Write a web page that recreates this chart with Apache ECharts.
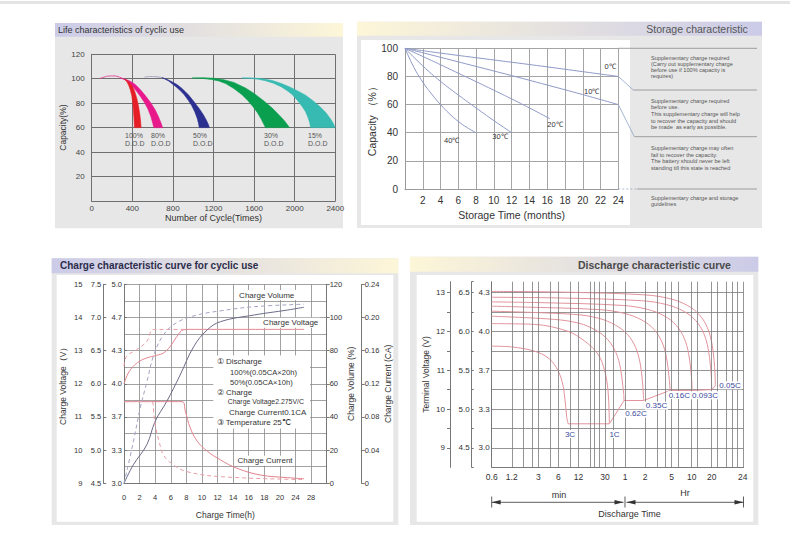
<!DOCTYPE html>
<html>
<head>
<meta charset="utf-8">
<title>Battery characteristics</title>
<script src="https://cdn.jsdelivr.net/npm/echarts@6/dist/echarts.min.js"></script>
<style>
html,body{margin:0;padding:0;background:#ffffff;}
#chart{width:790px;height:542px;}
</style>
</head>
<body>
<div id="chart"></div>
<script>
// ================= DATA =================
// --- Life characteristics of cyclic use: [cycles, capacity %] ---
const lifeDodLabels = ['100%', '80%', '50%', '30%', '15%'];
const life100Outer = [[320,99.6],[345,98.8],[370,97],[395,94.5],[420,90.5],[444,84],[460,78],[474,71],[482,65],[487,60]];
const life100Inner = [[320,99.6],[335,98.8],[350,97],[365,94.5],[380,91],[395,86],[404,81],[410,75],[416,68],[421,60]];
const life80Outer = [[280,100.6],[330,99.6],[380,98],[430,95.2],[480,91],[530,86],[580,80.5],[626,74.5],[660,68.5],[684,63.5],[698,60]];
const life80Inner = [[280,100.6],[320,99.5],[360,97.5],[400,94],[440,90],[480,85.5],[520,80.5],[555,75],[583,69],[600,64],[612,60]];
const life80Top = [[80,100.2],[120,101.3],[170,102.2],[220,102.3],[260,101.7],[300,100.4]];
const life50Top = [[520,101.4],[580,101.8],[640,101.6],[690,101]];
const life50Outer = [[690,101],[740,99.6],[790,97.6],[840,95.2],[890,92],[955,86.6],[1010,81],[1060,75.5],[1100,70.5],[1130,66],[1150,62.5],[1159,60]];
const life50Inner = [[690,101],[725,99.6],[757,98.2],[790,96],[830,93.5],[870,90.5],[910,87],[950,82.5],[985,78],[1015,73],[1040,67.5],[1052,63.5],[1060,60]];
const life30Outer = [[990,100.6],[1100,100.8],[1200,100.4],[1300,99.2],[1400,97],[1514,92.5],[1600,88],[1700,81.5],[1778,76],[1850,70],[1900,65.5],[1949,60]];
const life30Inner = [[990,100.6],[1100,100.2],[1180,99.4],[1251,98.2],[1320,96],[1400,92],[1481,86.9],[1540,82],[1590,77],[1630,72.5],[1670,67],[1712,60]];
const life15Outer = [[1480,100.6],[1580,100.6],[1680,100],[1778,98.6],[1870,96],[1950,93.3],[2030,90],[2107,86.5],[2180,82],[2250,77],[2304,72.5],[2350,67.5],[2380,63.5],[2397,60]];
const life15Inner = [[1480,100.6],[1560,100.4],[1640,99.6],[1712,98.4],[1790,96.4],[1870,93.3],[1930,90],[1975,87],[2030,82],[2075,77],[2107,73],[2130,68.5],[2148,64],[2156,60]];

// --- Storage characteristic: [months, capacity %] ---
const storageTempLabels = ['0℃', '10℃', '20℃', '30℃', '40℃'];
const storage0 = [[0,100],[4,96.6],[8,93.3],[12,90.1],[16,86.8],[20,83.4],[24,80]];
const storage10 = [[0,100],[4,93.6],[8,87.1],[12,80.6],[16,73.9],[20,67.1],[24,60]];
const storage20 = [[0,100],[2,94.2],[4,88.3],[6,82.3],[8,76.3],[10,70.2],[12,64],[14,57.6],[16.3,50]];
const storage30 = [[0,100],[2,87.5],[4,76.5],[6,66.8],[8,57.6],[10,48.6],[12,40]];
const storage40 = [[0,100],[1,86.5],[2,76],[3,67.5],[4,60],[5,53.5],[6,48],[7,43.6],[8,40]];

// --- Charge characteristic: x = charge-time axis position (h) ---
const chargeTimeLabels = ['0','2','4','6','8','10','12','14','16','18','20','24','28',''];
const chargeVolt12Labels = ['9','10','11','12','13','14','15'];
const chargeVolt6Labels = ['4.5','5.0','5.5','6.0','6.5','7.0','7.5'];
const chargeCellLabels = ['3.0','3.3','3.7','4.0','4.3','4.7','5.0'];
const chargeVoltSolid = [[0,12.0],[0.5,12.3],[1.2,12.53],[2.0,12.68],[2.93,12.78],[4.2,12.86],[5.07,12.93],[5.94,13.13],[6.8,13.43],[7.65,13.63],[8.5,13.64],[23.1,13.64]];
const chargeVoltDashed = [[0,12.53],[0.34,12.83],[1.63,13.03],[2.93,13.28],[3.57,13.62],[4.0,13.64],[23.1,13.64]];
const chargeVolSolid = [[0,0],[1.2,11.2],[2.93,23.3],[4.0,37.4],[5.5,49.5],[7.2,65.3],[8.94,82.4],[10.67,92.5],[12.4,97.5],[16.7,101.5],[21.0,104.5],[23.1,106.2]];
const chargeVolDashed = [[0,0],[1.2,25],[2.06,45],[2.93,61],[3.8,77],[5.07,89.5],[6.8,97],[9.4,101.5],[12.4,104],[16.7,106.5],[23.1,108]];
const chargeCurSolid = [[0,0.0985],[7.44,0.0985],[7.87,0.0868],[8.5,0.0667],[9.4,0.0507],[10.7,0.0386],[12.4,0.0281],[14.5,0.0181],[17.5,0.010],[21,0.0068],[23.1,0.0055]];
const chargeCurDashed = [[0,0.0985],[3.57,0.0985],[3.8,0.0868],[4.0,0.0703],[4.5,0.0507],[5.07,0.0341],[6.36,0.0221],[8.1,0.014],[12.4,0.008],[23.1,0.0045]];

// --- Discharge characteristic: [minutes, terminal voltage (12V)] ---
const disTickValues = [0.6,1.2,3,6,12,30,60,120,300,600,1200,3500];
const disTickLabels = ['0.6','1.2','3','6','12','30','1','2','5','10','20','24'];
const disGridMinutes = [1.2,1.8,2.4,3,4.5,6,9,12,18,21,25,30,40,60,120,180,240,300,380,600,720,1200,1440,2000,2450,2900,3600];
const disVolt12Labels = ['9','10','11','12','13'];
const disVolt6Labels = ['4.5','5.0','5.5','6.0','6.5'];
const disCellLabels = ['3.0','3.3','3.7','4.0','4.3'];
const disRateLabels = ['3C','1C','0.62C','0.35C','0.16C','0.093C','0.05C'];
const dis005 = [[0.6,13.03],[7.6,13.01],[121,12.94],[287,12.84],[517,12.67],[782,12.43],[1032,12.1],[1205,11.7],[1304,11.25],[1345,10.9],[1360,10.6]];
const disB = [[0.6,12.88],[6.7,12.86],[107,12.79],[253,12.69],[456,12.52],[690,12.28],[911,11.95],[1063,11.55],[1151,11.1],[1188,10.8],[1200,10.5]];
const dis0093 = [[0.6,12.76],[3.4,12.74],[54,12.67],[129,12.57],[232,12.4],[351,12.16],[463,11.83],[540,11.43],[585,10.98],[603,10.7],[610,10.48]];
const dis016 = [[0.6,12.65],[1.6,12.63],[25.4,12.56],[60,12.46],[108,12.29],[164,12.05],[216,11.72],[252,11.32],[273,10.87],[282,10.6],[285,10.48]];
const dis035 = [[0.6,12.52],[10.1,12.44],[24,12.34],[43.3,12.16],[65.5,11.92],[86.5,11.59],[101,11.19],[109.3,10.74],[112.5,10.45],[114,10.22]];
const dis062 = [[0.6,12.39],[5.2,12.31],[12.2,12.21],[22,12.03],[33.4,11.78],[44,11.45],[51.4,11.05],[55.6,10.6],[57.3,10.4],[58,10.22]];
const dis1C = [[0.6,12.2],[2.65,12.18],[8.4,12.0],[14.9,11.75],[23.7,11.41],[29.8,10.98],[33.4,10.47],[34.6,9.95],[35,9.62]];
const dis3C = [[0.6,11.62],[1.2,11.6],[2.65,11.49],[4.2,11.32],[5.6,11.07],[6.8,10.72],[7.5,10.29],[8.0,9.8],[8.4,9.62]];
const disCutoff = [[8.4,9.62],[35,9.62],[58,10.22],[114,10.22],[285,10.48],[610,10.48],[1200,10.5],[1360,10.6]];

// ================= HELPERS =================
const FONT = "'Liberation Sans', Arial, Helvetica, sans-serif";
function intLabel(arr, base) {
  return function (v) {
    if (!Number.isInteger(v)) return '';
    const i = v - base;
    return (i >= 0 && i < arr.length) ? arr[i] : '';
  };
}
function disLabelFor(v) {
  let best = -1, bd = Infinity;
  disTickValues.forEach(function (t, i) { const d = Math.abs(Math.log(v / t)); if (d < bd) { bd = d; best = i; } });
  return bd < 0.02 ? disTickLabels[best] : '';
}
function lbl(size, margin, extra) {
  return Object.assign({ fontSize: size, color: '#333', fontFamily: FONT, margin: margin }, extra || {});
}
function nameStyle(size, extra) {
  return Object.assign({ fontSize: size, color: '#333', fontFamily: FONT }, extra || {});
}
function band(outer, inner, color) {
  const pts = outer.concat(inner.slice().reverse());
  return {
    type: 'custom', coordinateSystem: 'cartesian2d', xAxisIndex: 0, yAxisIndex: 0, silent: true, z: 3,
    data: pts,
    renderItem: function (params, api) {
      if (params.dataIndex !== 0) return null;
      return { type: 'polygon', shape: { points: pts.map(function (p) { return api.coord(p); }) },
               style: { fill: color, stroke: color, lineWidth: 0.6 } };
    }
  };
}
function line(data, xi, yi, color, dashed, width, smooth) {
  return {
    type: 'line', xAxisIndex: xi, yAxisIndex: yi, data: data, symbol: 'none', silent: true,
    smooth: smooth === undefined ? 0.3 : smooth, z: 4,
    lineStyle: { color: color, width: width || 1, type: dashed ? [4, 3] : 'solid' }
  };
}
function plain(v) { return String(v); }

const chart = echarts.init(document.getElementById('chart'), null, { renderer: 'svg', width: 790, height: 542 });

const GRIDC = '#6f6f6f';
const option = {
  animation: false,
  backgroundColor: '#ffffff',
  textStyle: { fontFamily: FONT },
  grid: [
    { left: 91.7, top: 54.3, width: 243.6, height: 146.6, outerBoundsMode: 'none' },
    { left: 405, top: 48.3, width: 213.3, height: 140.7, outerBoundsMode: 'none' },
    { left: 124, top: 284.3, width: 202.7, height: 199, outerBoundsMode: 'none' },
    { left: 491.7, top: 281.7, width: 251.8, height: 185.6, outerBoundsMode: 'none' }
  ],
  xAxis: [
    { gridIndex: 0, type: 'value', min: 0, max: 2400, interval: 400,
      axisLine: { show: true, lineStyle: { color: GRIDC } }, axisTick: { show: false },
      splitLine: { show: true, lineStyle: { color: GRIDC, width: 1 } },
      axisLabel: lbl(8, 4, { color: '#444', formatter: plain }),
      name: 'Number of Cycle(Times)', nameLocation: 'middle', nameGap: 13, nameTextStyle: nameStyle(9) },
    { gridIndex: 1, type: 'value', min: 0, max: 24, interval: 2,
      axisLine: { show: true, lineStyle: { color: '#9a9a9a' } }, axisTick: { show: false },
      splitLine: { show: true, lineStyle: { color: '#a5a5a5', width: 1 } },
      axisLabel: lbl(10, 6, { formatter: function (v) { return v === 0 ? '' : String(v); } }),
      name: 'Storage Time (months)', nameLocation: 'middle', nameGap: 20, nameTextStyle: nameStyle(10.5) },
    { gridIndex: 2, type: 'value', min: 0, max: 26, interval: 2,
      axisLine: { show: true, lineStyle: { color: '#777' } }, axisTick: { show: false },
      splitLine: { show: true, lineStyle: { color: '#8a8a8a', width: 0.8 } },
      axisLabel: lbl(7.5, 10, { formatter: function (v) { return chargeTimeLabels[Math.round(v / 2)] || ''; } }),
      name: 'Charge Time(h)', nameLocation: 'middle', nameGap: 27, nameTextStyle: nameStyle(8.5) },
    { gridIndex: 3, type: 'log', logBase: 10, min: 0.6, max: 3600,
      axisLine: { show: true, lineStyle: { color: '#7a7a7a' } }, axisTick: { show: false },
      splitLine: { show: false }, minorTick: { show: false }, minorSplitLine: { show: false },
      axisLabel: lbl(8.5, 5, { customValues: disTickValues, formatter: disLabelFor, hideOverlap: false }),
      name: 'Discharge Time', nameLocation: 'middle', nameGap: 42, nameTextStyle: nameStyle(9, { padding: [0, 0, 0, 24] }) }
  ],
  yAxis: [
    { gridIndex: 0, type: 'value', min: 0, max: 120, interval: 20,
      axisLine: { show: true, lineStyle: { color: GRIDC } }, axisTick: { show: false },
      splitLine: { show: true, lineStyle: { color: GRIDC, width: 1 } },
      axisLabel: lbl(8, 7, { color: '#444', formatter: function (v) { return v === 0 ? '' : String(v); } }),
      name: 'Capacity(%)', nameLocation: 'middle', nameGap: 21, nameTextStyle: nameStyle(8.5) },
    { gridIndex: 1, type: 'value', min: 0, max: 100, interval: 20,
      axisLine: { show: true, lineStyle: { color: '#9a9a9a' } }, axisTick: { show: false },
      splitLine: { show: true, lineStyle: { color: '#a5a5a5', width: 1 } },
      axisLabel: lbl(10, 7),
      name: 'Capacity （%）', nameLocation: 'middle', nameGap: 24, nameTextStyle: nameStyle(10.5) },
    // charge: 12V scale
    { gridIndex: 2, type: 'value', position: 'left', offset: 39.7, min: 9, max: 15, interval: 1,
      axisLine: { show: true, lineStyle: { color: '#777' } }, axisTick: { show: true, inside: true, length: 3, lineStyle: { color: '#777' } },
      splitLine: { show: false }, axisLabel: lbl(7.5, 2, { formatter: intLabel(chargeVolt12Labels, 9) }),
      name: 'Charge Voltage（V）', nameLocation: 'middle', nameGap: 17, nameTextStyle: nameStyle(8.5) },
    // charge: 6V scale
    { gridIndex: 2, type: 'value', position: 'left', offset: 20.7, min: 9, max: 15, interval: 1,
      axisLine: { show: true, lineStyle: { color: '#777' } }, axisTick: { show: true, inside: true, length: 3, lineStyle: { color: '#777' } },
      splitLine: { show: false }, axisLabel: lbl(7.5, 2, { formatter: intLabel(chargeVolt6Labels, 9) }) },
    // charge: cell scale (plot border + grid)
    { gridIndex: 2, type: 'value', position: 'left', offset: 0, min: 9, max: 15, interval: 0.5,
      axisLine: { show: true, lineStyle: { color: '#777' } }, axisTick: { show: false },
      splitLine: { show: true, lineStyle: { color: '#8a8a8a', width: 0.8 } },
      axisLabel: lbl(7.5, 2, { formatter: intLabel(chargeCellLabels, 9) }) },
    // charge volume
    { gridIndex: 2, type: 'value', position: 'right', offset: 0, min: 0, max: 120, interval: 20,
      axisLine: { show: true, lineStyle: { color: '#777' } }, axisTick: { show: true, length: 3, lineStyle: { color: '#777' } },
      splitLine: { show: false }, axisLabel: lbl(7.5, 3),
      name: 'Charge Volume (%)', nameLocation: 'middle', nameGap: 17, nameTextStyle: nameStyle(8.5) },
    // charge current
    { gridIndex: 2, type: 'value', position: 'right', offset: 35, min: 0, max: 0.24, interval: 0.04,
      axisLine: { show: true, lineStyle: { color: '#777' } }, axisTick: { show: true, length: 3, lineStyle: { color: '#777' } },
      splitLine: { show: false },
      axisLabel: lbl(7.5, 3, { formatter: function (v) { return v === 0 ? '0' : v.toFixed(2); } }),
      name: 'Charge Current (CA)', nameLocation: 'middle', nameGap: 22, nameTextStyle: nameStyle(8.5) },
    // discharge 12V
    { gridIndex: 3, type: 'value', position: 'left', offset: 41.7, min: 8.5, max: 13.28, interval: 0.5,
      axisLine: { show: true, lineStyle: { color: '#777' } }, axisTick: { show: true, length: 3, lineStyle: { color: '#777' } },
      splitLine: { show: false }, axisLabel: lbl(8, 5, { formatter: intLabel(disVolt12Labels, 9), showMaxLabel: false, showMinLabel: false }),
      name: 'Terminal Voltage (V)', nameLocation: 'middle', nameGap: 20, nameTextStyle: nameStyle(8.5) },
    // discharge 6V
    { gridIndex: 3, type: 'value', position: 'left', offset: 20, min: 8.5, max: 13.28, interval: 0.5,
      axisLine: { show: true, lineStyle: { color: '#777' } }, axisTick: { show: true, inside: true, length: 2, lineStyle: { color: '#777' } },
      splitLine: { show: false }, axisLabel: lbl(8, 2, { formatter: intLabel(disVolt6Labels, 9) }) },
    // discharge cell
    { gridIndex: 3, type: 'value', position: 'left', offset: 0, min: 8.5, max: 13.28, interval: 0.5,
      axisLine: { show: true, lineStyle: { color: '#777' } }, axisTick: { show: false },
      splitLine: { show: true, showMaxLine: false, lineStyle: { color: '#7a7a7a', width: 0.8 } },
      axisLabel: lbl(8, 2, { formatter: intLabel(disCellLabels, 9) }) }
  ],
  series: [
    // life
    line(life80Top, 0, 0, '#e3509c', false, 1, 0.5),
    line(life50Top, 0, 0, '#a3a3bd', false, 1, 0.5),
    band(life80Outer, life80Inner, '#e8198b'),
    band(life100Outer, life100Inner, '#e61f26'),
    band(life50Outer, life50Inner, '#2b2f8f'),
    band(life30Outer, life30Inner, '#0a9e4f'),
    band(life15Outer, life15Inner, '#36bab2'),
    // storage
    line(storage0, 1, 1, '#8e99c7', false, 1, 0.5),
    line(storage10, 1, 1, '#8e99c7', false, 1, 0.5),
    line(storage20, 1, 1, '#8e99c7', false, 1, 0.5),
    line(storage30, 1, 1, '#8e99c7', false, 1, 0.5),
    line(storage40, 1, 1, '#8e99c7', false, 1, 0.5),
    // charge
    line(chargeVoltSolid, 2, 2, '#e2838e', false, 1, 0.4),
    line(chargeVoltDashed, 2, 2, '#e99da7', true, 1, 0.4),
    line(chargeVolSolid, 2, 5, '#6a6b88', false, 1, 0.4),
    line(chargeVolDashed, 2, 5, '#a2a4c2', true, 1, 0.4),
    line(chargeCurSolid, 2, 6, '#e2838e', false, 1, 0.4),
    line(chargeCurDashed, 2, 6, '#e99da7', true, 1, 0.4),
    // discharge grid lines (vertical)
    { type: 'line', xAxisIndex: 3, yAxisIndex: 7, data: [[0.6, 8.5]], symbol: 'none', silent: true, z: 1,
      lineStyle: { width: 0 },
      markLine: { silent: true, symbol: ['none', 'none'], label: { show: false }, animation: false,
        lineStyle: { color: '#7a7a7a', width: 0.8, type: 'solid' }, emphasis: { disabled: true },
        data: disGridMinutes.map(function (v) { return { xAxis: v }; }) } },
    // discharge curves
    line(dis005, 3, 7, '#e2939c', false, 1, 0.35),
    line(disB, 3, 7, '#e2939c', false, 1, 0.35),
    line(dis0093, 3, 7, '#e2939c', false, 1, 0.35),
    line(dis016, 3, 7, '#e2939c', false, 1, 0.35),
    line(dis035, 3, 7, '#e2939c', false, 1, 0.35),
    line(dis062, 3, 7, '#e2939c', false, 1, 0.35),
    line(dis1C, 3, 7, '#e2939c', false, 1, 0.35),
    line(dis3C, 3, 7, '#e2939c', false, 1, 0.35),
    line(disCutoff, 3, 7, '#e2939c', false, 1, 0)
  ]
};
chart.setOption(option);

// ================= DECORATION (panels, titles, notes, annotations) =================
function rect(x, y, w, h, fill, z) { return { type: 'rect', z: z === undefined ? -10 : z, silent: true, shape: { x: x, y: y, width: w, height: h }, style: { fill: fill } }; }
function grad(c0, c1) { return { type: 'linear', x: 0, y: 0, x2: 1, y2: 0, colorStops: [{ offset: 0, color: c0 }, { offset: 1, color: c1 }] }; }
function txt(text, x, y, size, color, opts) {
  return { type: 'text', z: 20, silent: true, x: x, y: y,
    style: Object.assign({ text: text, fontSize: size, fontFamily: FONT, fill: color,
      textAlign: 'left', align: 'left', textVerticalAlign: 'middle', verticalAlign: 'middle' }, opts || {}) };
}
function ctr(extra) { return Object.assign({ textAlign: 'center', align: 'center' }, extra || {}); }
function seg(x1, y1, x2, y2, color, w, dash, z) {
  return { type: 'line', z: z === undefined ? 15 : z, silent: true, shape: { x1: x1, y1: y1, x2: x2, y2: y2 },
    style: { stroke: color, lineWidth: w || 1, lineDash: dash || null } };
}
function tri(points, color) { return { type: 'polygon', z: 15, silent: true, shape: { points: points }, style: { fill: color } }; }

const LAV = '#cbcbe8', YEL = '#fdf6d8', PANEL = '#e7e7e7';
const g = [];
g.push(rect(0, 1, 790, 3, '#e4e4e4'));
// life panel
g.push(rect(55, 23, 288, 205.3, PANEL));
g.push(rect(55, 23, 288, 13.7, grad(LAV, YEL), -9));
g.push(txt('Life characteristics of cyclic use', 58, 30, 9, '#333'));
const dodX = [125, 151, 193, 264, 308];
lifeDodLabels.forEach(function (t, i) {
  g.push(txt(t + '\nD.O.D', dodX[i], 131, 7, '#555', { textVerticalAlign: 'top', verticalAlign: 'top', lineHeight: 8.3 }));
});
// storage panel
g.push(rect(357, 21.7, 405, 206.3, PANEL));
g.push(rect(357, 21.7, 405, 14, grad(YEL, LAV), -9));
g.push(rect(361, 40, 269, 185, '#ffffff', -8));
g.push(txt('Storage characteristic', 697, 28.5, 10.5, '#555', ctr()));
const tempPos = [[610, 66.7], [591.7, 91], [555, 124.3], [500, 136.7], [451.7, 140]];
storageTempLabels.forEach(function (t, i) { g.push(txt(t, tempPos[i][0], tempPos[i][1], 7.5, '#333', ctr())); });
const noteStyle = { textVerticalAlign: 'top', verticalAlign: 'top' };
g.push(txt('Supplementary charge required\n(Carry out supplementary charge\nbefore use if 100% capacity is\nrequires)', 651, 55.3, 5.6, '#555', Object.assign({ lineHeight: 6 }, noteStyle)));
g.push(txt('Supplementary charge required\nbefore use.\nThis supplementary charge will help\nto recover the capacity and should\nbe made  as early as possible.', 651, 97.5, 5.6, '#555', Object.assign({ lineHeight: 6.6 }, noteStyle)));
g.push(txt('Supplementary charge may often\nfail to recover the capacity.\nThe battery should never be left\nstanding till this state is reached', 651, 144.8, 5.6, '#555', Object.assign({ lineHeight: 6.5 }, noteStyle)));
g.push(txt('Supplementary charge and storage\nguidelines', 651, 194.8, 5.6, '#555', Object.assign({ lineHeight: 6 }, noteStyle)));
const p100 = chart.convertToPixel({ gridIndex: 1 }, [24, 100]);
const p80 = chart.convertToPixel({ gridIndex: 1 }, [24, 80]);
const p60 = chart.convertToPixel({ gridIndex: 1 }, [24, 60]);
const p0 = chart.convertToPixel({ gridIndex: 1 }, [24, 0]);
g.push(seg(p100[0], p100[1], 757, p100[1], '#8a8a8a', 0.8));
g.push(seg(633.3, 90, 757, 90, '#8a8a8a', 0.8));
g.push(seg(634.3, 136.7, 757, 136.7, '#8a8a8a', 0.8));
g.push(seg(p0[0], p0[1], 637, p0[1], '#9aaccc', 0.8, [2, 2]));
g.push(seg(637, p0[1], 757, p0[1], '#8a8a8a', 0.8));
g.push(seg(p80[0], p80[1], 633.3, 90, '#9aaccc', 0.9));
g.push(seg(p60[0], p60[1], 634.3, 136.7, '#9aaccc', 0.9));
// charge panel
g.push(rect(51.7, 258.3, 346.6, 266.7, PANEL));
g.push(rect(51.7, 258.3, 346.6, 15, grad(LAV, YEL), -9));
g.push(rect(56.7, 275, 336.6, 246.7, '#ffffff', -8));
g.push(txt('Charge characteristic curve for cyclic use', 60, 265.8, 10, '#2c2c4c', { fontWeight: 'bold' }));
const whiteBg = { backgroundColor: '#ffffff', padding: [1, 2] };
g.push(txt('Charge Volume', 266.7, 295, 8, '#333', ctr(whiteBg)));
g.push(txt('Charge Voltage', 290.7, 322.7, 8, '#333', ctr(whiteBg)));
g.push(txt('Charge Current', 265, 460.7, 8, '#333', ctr(whiteBg)));
g.push(rect(213.3, 355.5, 96.7, 73, '#ffffff', 5));
g.push(txt('① Discharge', 216.7, 361, 8, '#333'));
g.push(txt('100%(0.05CA×20h)', 230, 372.7, 7.6, '#333'));
g.push(txt('50%(0.05CA×10h)', 230, 382.7, 7.6, '#333'));
g.push(txt('② Charge', 216.7, 392.7, 8, '#333'));
g.push(txt('Charge Voltage2.275V/C', 227.7, 401.7, 6.9, '#333'));
g.push(txt('Charge Current0.1CA', 229, 412.3, 8, '#333'));
g.push(txt('③ Temperature 25℃', 216.7, 422.7, 8, '#333'));
// discharge panel
g.push(rect(410, 256.7, 348.3, 268.3, PANEL));
g.push(rect(410, 256.7, 348.3, 15, grad(YEL, LAV), -9));
g.push(rect(416.7, 275, 336.6, 246.7, '#ffffff', -8));
g.push(txt('Discharge characteristic curve', 578, 264.5, 10.5, '#4a4a4a', { fontWeight: 'bold' }));
const ratePos = [[570, 434], [614.5, 434], [636, 413.7], [656.5, 405.7], [679.3, 395], [705, 395.3], [730, 385.3]];
disRateLabels.forEach(function (t, i) { g.push(txt(t, ratePos[i][0], ratePos[i][1], 8, '#3b4a9c', ctr({ backgroundColor: '#ffffff', padding: [0, 1] }))); });
const xa = chart.convertToPixel({ xAxisIndex: 3 }, 0.6);
const xb = chart.convertToPixel({ xAxisIndex: 3 }, 60);
const xc = chart.convertToPixel({ xAxisIndex: 3 }, 3600);
const ay = 502.3, AC = '#333';
g.push(seg(xa, ay, xb - 1.5, ay, AC, 0.8));
g.push(seg(xb + 1.5, ay, xc, ay, AC, 0.8));
[xa, xb, xc].forEach(function (x) { g.push(seg(x, 496.5, x, 507.5, AC, 0.8)); });
g.push(tri([[xa, ay], [xa + 9, ay - 2.3], [xa + 9, ay + 2.3]], AC));
g.push(tri([[xb - 1.5, ay], [xb - 10.5, ay - 2.3], [xb - 10.5, ay + 2.3]], AC));
g.push(tri([[xb + 1.5, ay], [xb + 10.5, ay - 2.3], [xb + 10.5, ay + 2.3]], AC));
g.push(tri([[xc, ay], [xc - 9, ay - 2.3], [xc - 9, ay + 2.3]], AC));
g.push(txt('min', 559, 495, 9, '#333', ctr()));
g.push(txt('Hr', 685, 493.3, 9, '#333', ctr()));

chart.setOption({ graphic: { elements: g } });
</script>
</body>
</html>
